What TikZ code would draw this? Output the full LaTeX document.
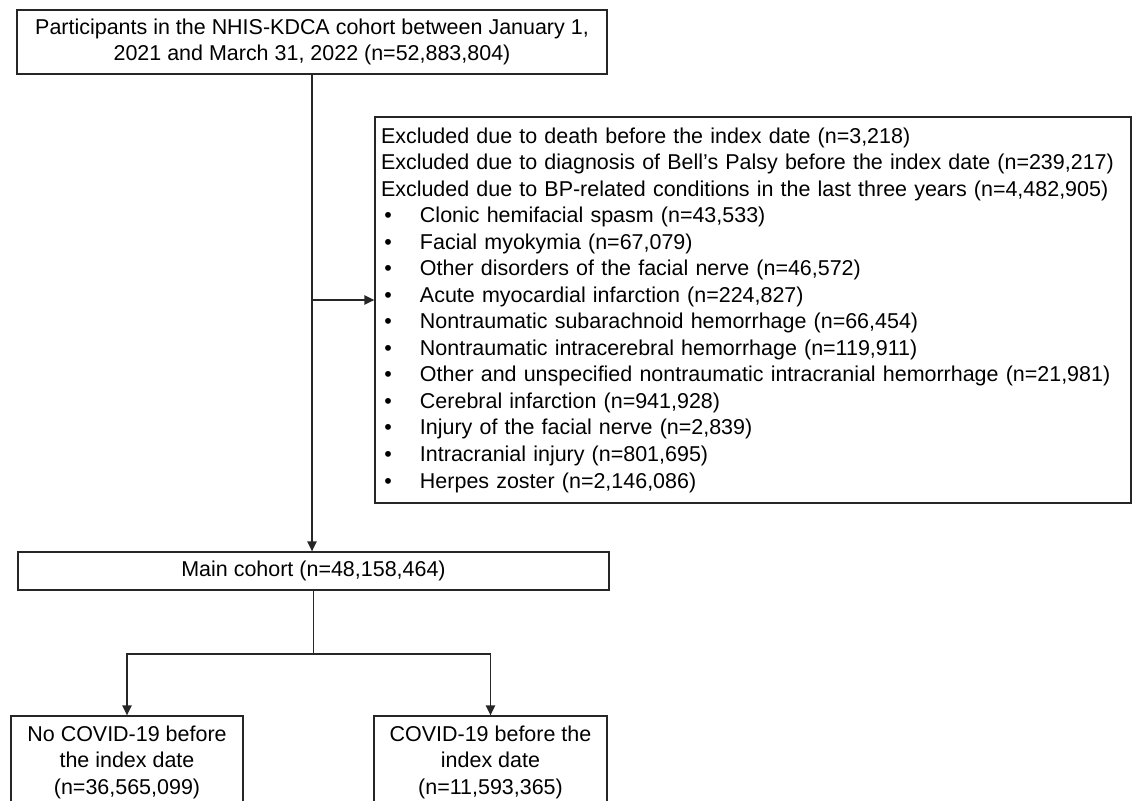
\documentclass[tikz,border=0pt]{standalone}
\usepackage{fontspec}
\setmainfont{Liberation Sans}
\usetikzlibrary{positioning, arrows.meta}

\newcommand{\bul}{\makebox[29.25pt][l]{\hspace{2.5pt}\textbullet}}

\begin{document}
\begin{tikzpicture}[
  x=0.75pt, y=-0.75pt,
  box/.style={draw=black!85, line width=1pt, align=center, font=\fontsize{16.1}{19.9}\selectfont, inner sep=0pt},
  arr/.style={-{Triangle[length=7.5pt, width=7pt]}, line width=1.1pt, black!85}
]
  \useasboundingbox (0,0) rectangle (1132,800);
  \node[box, minimum width=442.5pt, minimum height=48pt] (start) at (312,42) {Participants in the NHIS-KDCA cohort between January 1,\\ 2021 and March 31, 2022 (n=52,883,804)};
  \node[box, align=left, text width=558pt, inner xsep=4.5pt, minimum height=289.5pt] (excl) at (753,310) {Excluded due to death before the index date (n=3,218)\\
    Excluded due to diagnosis of Bell’s Palsy before the index date (n=239,217)\\
    Excluded due to BP-related conditions in the last three years (n=4,482,905)\\
    \bul Clonic hemifacial spasm (n=43,533)\\
    \bul Facial myokymia (n=67,079)\\
    \bul Other disorders of the facial nerve (n=46,572)\\
    \bul Acute myocardial infarction (n=224,827)\\
    \bul Nontraumatic subarachnoid hemorrhage (n=66,454)\\
    \bul Nontraumatic intracerebral hemorrhage (n=119,911)\\
    \bul Other and unspecified nontraumatic intracranial hemorrhage (n=21,981)\\
    \bul Cerebral infarction (n=941,928)\\
    \bul Injury of the facial nerve (n=2,839)\\
    \bul Intracranial injury (n=801,695)\\
    \bul Herpes zoster (n=2,146,086)};
  \node[box, minimum width=443.25pt, minimum height=28.5pt] (main) at (313.5,571) {Main cohort (n=48,158,464)};
  \node[box, minimum width=174pt, minimum height=69pt] (nocovid) at (127,762) {No COVID-19 before\\ the index date\\ (n=36,565,099)};
  \node[box, minimum width=174.75pt, minimum height=69pt] (covid) at (490.5,762) {COVID-19 before the\\ index date\\ (n=11,593,365)};
  % flow lines
  \coordinate (split) at (start.south |- 0,300);
  \coordinate (fork) at (main.south |- 0,654);
  \draw[arr] (start.south) -- (start.south |- main.north);
  \draw[arr] (split) -- (split -| excl.west);
  \draw[line width=1.1pt, black!85] (main.south) -- (fork);
  \draw[arr] (fork) -| (nocovid.north);
  \draw[arr] (fork) -| (covid.north);
\end{tikzpicture}
\end{document}
